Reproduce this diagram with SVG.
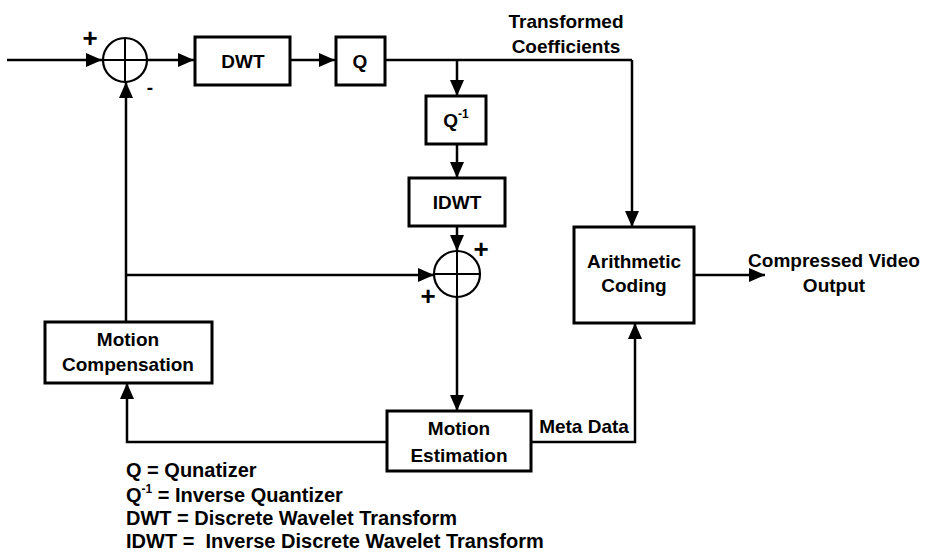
<svg xmlns="http://www.w3.org/2000/svg" width="926" height="559" viewBox="0 0 926 559">
<defs>
<style>
.box{fill:#fff;stroke:#000;stroke-width:3}
.sum{fill:none;stroke:#000;stroke-width:2.2}
.ln{fill:none;stroke:#000;stroke-width:2.5}
.wire{fill:none;stroke:#000;stroke-width:2.5;marker-end:url(#ah)}
text{font-family:"Liberation Sans",Arial,sans-serif;font-weight:bold;fill:#000}
.lbl{font-size:19px;text-anchor:middle}
.leg{font-size:20px}
.sign{font-size:26px;text-anchor:middle}
.sup{font-size:12px}
</style>
<marker id="ah" markerWidth="16" markerHeight="14" refX="16" refY="7" orient="auto" markerUnits="userSpaceOnUse">
<path d="M0,0 L16,7 L0,14 z" fill="#000"/>
</marker>
</defs>
<rect width="926" height="559" fill="#fff"/>

<g id="connectors">
<path class="wire" d="M7,60 H102"/>
<path class="wire" d="M147,60 H194"/>
<path class="wire" d="M290,60 H335"/>
<path class="ln" d="M385,60 H632"/>
<path class="wire" d="M632,60 V227"/>
<path class="wire" d="M457,60 V96"/>
<path class="wire" d="M457,144 V178"/>
<path class="wire" d="M457,226 V251"/>
<path class="wire" d="M457,297 V411"/>
<path class="wire" d="M126,322 V82"/>
<path class="wire" d="M126,275 H434"/>
<path class="wire" d="M387,442 H127 V383"/>
<path class="wire" d="M531,442 H635 V323"/>
<path class="wire" d="M694,275 H765"/>
</g>

<g id="sum1">
<circle class="sum" cx="125" cy="60" r="22"/>
<path class="ln" d="M103,60 H147 M125,38 V82" style="stroke-width:2"/>
<text class="sign" x="90" y="47">+</text>
<text class="lbl" x="150" y="94">-</text>
</g>

<g id="dwt">
<rect class="box" x="195" y="37" width="95" height="48"/>
<text class="lbl" x="243" y="68">DWT</text>
</g>

<g id="q">
<rect class="box" x="336" y="37" width="49" height="48"/>
<text class="lbl" x="360" y="68">Q</text>
</g>

<g id="qinv">
<rect class="box" x="426" y="96" width="60" height="48"/>
<text class="lbl" x="456" y="127">Q<tspan class="sup" dy="-9">-1</tspan></text>
</g>

<g id="idwt">
<rect class="box" x="409" y="178" width="96" height="48"/>
<text class="lbl" x="457" y="209">IDWT</text>
</g>

<g id="sum2">
<circle class="sum" cx="457" cy="274" r="23"/>
<path class="ln" d="M434,274 H480 M457,251 V297" style="stroke-width:2"/>
<text class="sign" x="481" y="258">+</text>
<text class="sign" x="428" y="305">+</text>
</g>

<g id="arith">
<rect class="box" x="574" y="227" width="120" height="96"/>
<text class="lbl" x="634" y="268">Arithmetic</text>
<text class="lbl" x="634" y="292">Coding</text>
</g>

<g id="mc">
<rect class="box" x="45" y="322" width="167" height="61"/>
<text class="lbl" x="128" y="346">Motion</text>
<text class="lbl" x="128" y="371">Compensation</text>
</g>

<g id="me">
<rect class="box" x="387" y="411" width="144" height="60"/>
<text class="lbl" x="459" y="435">Motion</text>
<text class="lbl" x="459" y="462">Estimation</text>
</g>

<g id="labels">
<text class="lbl" x="566" y="28">Transformed</text>
<text class="lbl" x="566" y="53">Coefficients</text>
<text class="lbl" x="834" y="267">Compressed Video</text>
<text class="lbl" x="834" y="292">Output</text>
<text class="lbl" x="584" y="433">Meta Data</text>
</g>

<g id="legend">
<text class="leg" x="126" y="477">Q = Qunatizer</text>
<text class="leg" x="126" y="502">Q<tspan class="sup" dy="-9">-1</tspan><tspan dy="9"> = Inverse Quantizer</tspan></text>
<text class="leg" x="126" y="525">DWT = Discrete Wavelet Transform</text>
<text class="leg" x="126" y="548" xml:space="preserve">IDWT =  Inverse Discrete Wavelet Transform</text>
</g>
</svg>
